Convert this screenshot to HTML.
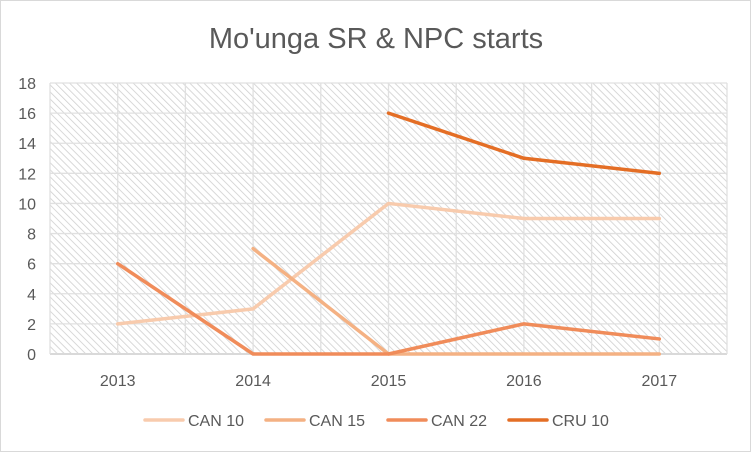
<!DOCTYPE html>
<html><head><meta charset="utf-8"><style>
body{margin:0;background:#fff;font-family:"Liberation Sans",sans-serif}
svg{display:block}
</style></head><body>
<svg width="751" height="452" viewBox="0 0 751 452">
<defs>
<pattern id="hatch" width="5" height="5" patternUnits="userSpaceOnUse" patternTransform="rotate(-45)">
<rect width="5" height="5" fill="#fff"/>
<line x1="0" y1="0" x2="0" y2="5" stroke="#cfcfcf" stroke-width="1.6"/>
</pattern>
</defs>
<rect x="0.5" y="0.5" width="750" height="451" fill="#fff" stroke="#d9d9d9"/>
<text x="376" y="48" text-anchor="middle" font-size="29" fill="#595959">Mo'unga SR &amp; NPC starts</text>
<rect x="50" y="83" width="677" height="271" fill="url(#hatch)"/>
<g id="grid"></g><g id="axes"></g><g id="series"></g><g id="legend"></g>
</svg>
<script>
const categories=["2013","2014","2015","2016","2017"];
const yTicks=[0,2,4,6,8,10,12,14,16,18];
const seriesNames=["CAN 10","CAN 15","CAN 22","CRU 10"];
const can10=[2,3,10,9,9];
const can15=[null,7,0,0,0];
const can22=[6,0,0,2,1];
const cru10=[null,null,16,13,12];
const colors=["#f8cbad","#f4b183","#f08c5a","#e46e25"];
const NS="http://www.w3.org/2000/svg";
const L=50,R=727,T=83,B=354;
const step=(R-L)/categories.length;
const xs=i=>L+step*(i+0.5);
const ys=v=>B-(v/18)*(B-T);
function mk(tag,attrs,parent){const e=document.createElementNS(NS,tag);for(const k in attrs)e.setAttribute(k,attrs[k]);parent.appendChild(e);return e;}
const grid=document.getElementById('grid'),axes=document.getElementById('axes');
yTicks.forEach(t=>{
 const l=mk('line',{x1:L,x2:R,y1:ys(t),y2:ys(t),stroke:t===0?'#d9d9d9':'#e0e0e0','stroke-width':t===0?2:1.3},grid);
 
 
 const tx=mk('text',{x:36,y:ys(t)+6,'text-anchor':'end','font-size':16,fill:'#595959'},axes);
 tx.textContent=t;
 
 
});
for(let i=0;i<=categories.length*2;i++){
 const x=L+step*i/2;
 const l=mk('line',{x1:x,x2:x,y1:T,y2:B,stroke:'#e0e0e0','stroke-width':1.3},grid);
 
 
}
categories.forEach((c,i)=>{
 const tx=mk('text',{x:xs(i),y:386,'text-anchor':'middle','font-size':16,fill:'#595959'},axes);
 tx.textContent=c;
 
 
});
const sg=document.getElementById('series');
[can10,can15,can22,cru10].forEach((d,si)=>{
 const pts=[];d.forEach((v,i)=>{if(v!==null)pts.push(xs(i)+','+ys(v));});
 const p=mk('polyline',{points:pts.join(' '),fill:'none',stroke:colors[si],'stroke-width':3.5,'stroke-linejoin':'round','stroke-linecap':'round'},sg);
 
 
});
const lg=document.getElementById('legend');
const lx=[145,266,388,509];
seriesNames.forEach((n,i)=>{
 const g=mk('g',{},lg);
 
 
 mk('line',{x1:lx[i],x2:lx[i]+38,y1:420,y2:420,stroke:colors[i],'stroke-width':3.5,'stroke-linecap':'round'},g);
 const t=mk('text',{x:lx[i]+43,y:426,'font-size':16,fill:'#595959'},g);
 t.textContent=n;
});
</script>
</body></html>
